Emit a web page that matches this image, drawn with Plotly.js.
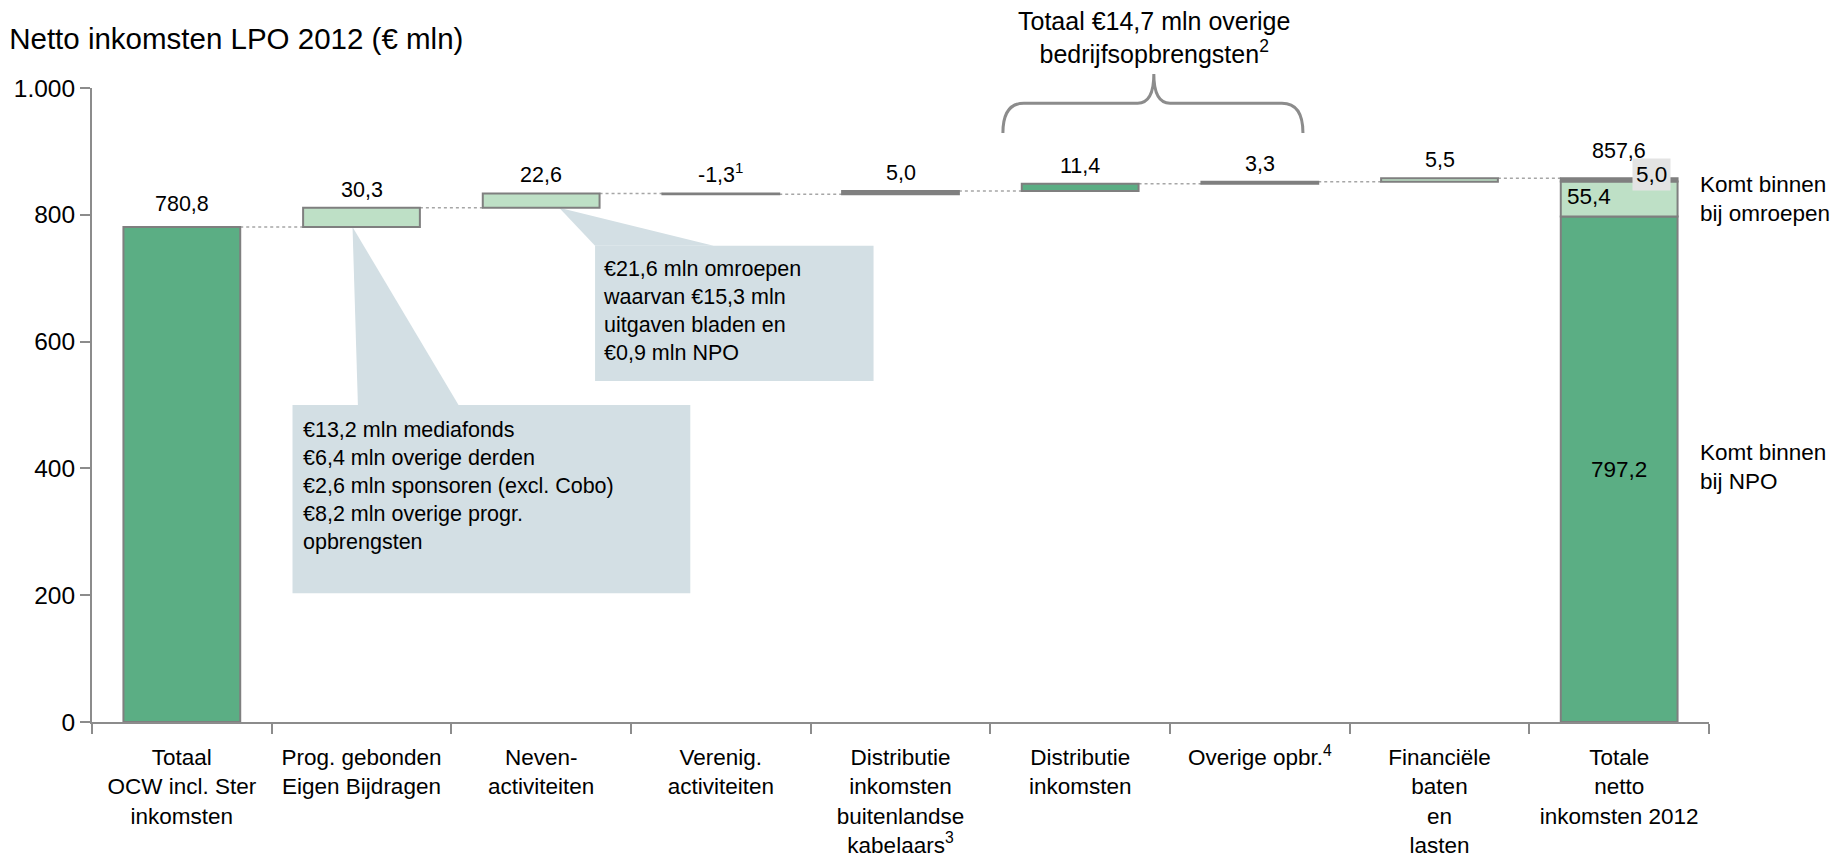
<!DOCTYPE html>
<html>
<head>
<meta charset="utf-8">
<script src="https://cdn.plot.ly/plotly-3.0.1.min.js"></script>
<style>html,body{margin:0;padding:0;background:#fff;}#chart{width:1840px;height:858px;}</style>
</head>
<body>
<div id="chart"></div>
<script>
// ---------------- data ----------------
const categories = [
  "Totaal<br>OCW incl. Ster<br>inkomsten",
  "Prog. gebonden<br>Eigen Bijdragen",
  "Neven-<br>activiteiten",
  "Verenig.<br>activiteiten",
  "Distributie<br>inkomsten<br>buitenlandse<br>kabelaars<sup>3</sup>",
  "Distributie<br>inkomsten",
  "Overige opbr.<sup>4</sup>",
  "Financiële<br>baten<br>en<br>lasten",
  "Totale<br>netto<br>inkomsten 2012"
];
const startValue = 780.8;                                  // Totaal OCW incl. Ster
const stepValues = [30.3, 22.6, -1.3, 5.0, 11.4, 3.3, 5.5]; // categories 1..7
const stepKinds  = ["light", "light", "gray", "gray", "dark", "gray", "light"];
const stepFootnotes = ["", "", "1", "", "", "", ""];
const finalParts = [797.2, 55.4, 5.0];                     // NPO, omroepen, kabelaars
const finalKinds = ["dark", "light", "gray"];
const totalValue = 857.6;
const yTicks = [0, 200, 400, 600, 800, 1000];

const callout1Lines = ["€13,2 mln mediafonds", "€6,4 mln overige derden", "€2,6 mln sponsoren (excl. Cobo)", "€8,2 mln overige progr.", "opbrengsten"];
const callout2Lines = ["€21,6 mln omroepen", "waarvan €15,3 mln", "uitgaven bladen en", "€0,9 mln NPO"];
const braceText = "Totaal €14,7 mln overige<br>bedrijfsopbrengsten<sup>2</sup>";

// ---------------- styling ----------------
const COLORS = {dark: "#5BAE84", light: "#BEE0C6", gray: "#808080"};
const OUTLINE = "#7F7F7F";
const AXIS = "#8C8C8C";
const BOX = "#D3DFE4";
const FONT = "Liberation Sans, Arial, sans-serif";
const BAR_W = 0.65;

function fmt(v) { return v.toFixed(1).replace(".", ","); }

// running totals
const bases = [], tops = [];
let run = startValue;
stepValues.forEach(v => { bases.push(run); run += v; tops.push(run); });

const traces = [];
traces.push({
  type: "bar", x: [categories[0]], y: [startValue], base: [0], width: BAR_W,
  marker: {color: COLORS.dark, line: {color: OUTLINE, width: 2}}, hoverinfo: "skip"
});
traces.push({
  type: "bar", x: categories.slice(1, 8), y: stepValues, base: bases, width: BAR_W,
  marker: {color: stepKinds.map(k => COLORS[k]), line: {color: OUTLINE, width: 2}}, hoverinfo: "skip"
});
let fb = 0;
finalParts.forEach((v, i) => {
  traces.push({
    type: "bar", x: [categories[8]], y: [v], base: [fb], width: BAR_W,
    marker: {color: COLORS[finalKinds[i]], line: {color: OUTLINE, width: 2}}, hoverinfo: "skip"
  });
  fb += v;
});

const annotations = [];
const lbl = {size: 21.5, color: "#000", family: FONT};
const side = {size: 22.5, color: "#000", family: FONT};
const call = {size: 21.5, color: "#000", family: FONT};
annotations.push({x: 0, y: startValue, xref: "x", yref: "y", text: fmt(startValue), showarrow: false,
  yanchor: "bottom", yshift: 9, font: lbl});
stepValues.forEach((v, i) => {
  annotations.push({x: i + 1, y: Math.max(bases[i], tops[i]), xref: "x", yref: "y",
    text: fmt(v) + (stepFootnotes[i] ? "<sup>" + stepFootnotes[i] + "</sup>" : ""),
    showarrow: false, yanchor: "bottom", yshift: 4, font: lbl});
});
annotations.push({x: 8, y: totalValue, xref: "x", yref: "y", text: fmt(totalValue), showarrow: false,
  yanchor: "bottom", yshift: 13, font: lbl});
annotations.push({x: 8, y: finalParts[0] / 2, xref: "x", yref: "y", text: fmt(finalParts[0]), showarrow: false, font: side});
annotations.push({x: 8 - BAR_W / 2, y: finalParts[0] + finalParts[1] / 2 + 4, xref: "x", yref: "y", text: fmt(finalParts[1]),
  showarrow: false, xanchor: "left", xshift: 4, font: side});
annotations.push({x: 8 + BAR_W / 2, y: totalValue, xref: "x", yref: "y", text: fmt(finalParts[2]),
  showarrow: false, xanchor: "right", yanchor: "middle", xshift: -7, yshift: 4, font: side,
  bgcolor: "#E3E3E3", borderpad: 3});
annotations.push({x: 0.993, y: 825, xref: "paper", yref: "y", text: "Komt binnen<br>bij omroepen", showarrow: false,
  xanchor: "left", yanchor: "middle", align: "left", font: side});
annotations.push({x: 0.993, y: 402, xref: "paper", yref: "y", text: "Komt binnen<br>bij NPO", showarrow: false,
  xanchor: "left", yanchor: "middle", align: "left", font: side});
annotations.push({x: 0.657, y: 1.08, xref: "paper", yref: "paper", text: braceText, showarrow: false,
  xanchor: "center", yanchor: "middle", font: {size: 25, color: "#000", family: FONT}, align: "center"});
const box1 = {x0: 0.616, x1: 2.83, y0: 203, y1: 500};
const box2 = {x0: 2.30, x1: 3.85, y0: 538, y1: 751};
annotations.push({x: box1.x0, y: box1.y1, xref: "x", yref: "y", text: callout1Lines.join("<br>"), showarrow: false,
  xanchor: "left", yanchor: "top", align: "left", xshift: 8, yshift: -11, font: call});
annotations.push({x: box2.x0, y: box2.y1, xref: "x", yref: "y", text: callout2Lines.join("<br>"), showarrow: false,
  xanchor: "left", yanchor: "top", align: "left", xshift: 6, yshift: -9, font: call});

const shapes = [];
shapes.push({type: "rect", xref: "x", yref: "y", x0: box1.x0, x1: box1.x1, y0: box1.y0, y1: box1.y1,
  fillcolor: BOX, line: {width: 0}, layer: "below"});
shapes.push({type: "path", xref: "x", yref: "y",
  path: `M 0.95 ${startValue} L 0.98 ${box1.y1} L 1.54 ${box1.y1} Z`, fillcolor: BOX, line: {width: 0}, layer: "below"});
shapes.push({type: "rect", xref: "x", yref: "y", x0: box2.x0, x1: box2.x1, y0: box2.y0, y1: box2.y1,
  fillcolor: BOX, line: {width: 0}, layer: "below"});
shapes.push({type: "path", xref: "x", yref: "y",
  path: `M 2.10 ${bases[1]} L ${box2.x0} ${box2.y1} L 2.96 ${box2.y1} Z`, fillcolor: BOX, line: {width: 0}, layer: "below"});
const levels = [startValue].concat(tops);
levels.forEach((lv, i) => {
  shapes.push({type: "line", xref: "x", yref: "y", x0: i + BAR_W / 2, x1: i + 1 - BAR_W / 2, y0: lv, y1: lv,
    line: {color: "#A6A6A6", width: 1.5, dash: "dot"}, layer: "below"});
});
const px = idx => (idx + 0.5) / categories.length;
const bx0 = px(4.57), bx1 = px(6.24), bxc = px(5.41);
const yA = 0.929, yH = 0.976, yT = 1.022, dX = 0.013, dC = 0.010;
shapes.push({type: "path", xref: "paper", yref: "paper",
  path: `M ${bx0} ${yA} Q ${bx0} ${yH} ${bx0 + dX} ${yH} L ${bxc - dC} ${yH} Q ${bxc} ${yH} ${bxc} ${yT} ` +
        `Q ${bxc} ${yH} ${bxc + dC} ${yH} L ${bx1 - dX} ${yH} Q ${bx1} ${yH} ${bx1} ${yA}`,
  line: {color: AXIS, width: 3}, fillcolor: "rgba(0,0,0,0)"});

const layout = {
  width: 1840, height: 858,
  margin: {l: 92, r: 131, t: 88, b: 136, pad: 0},
  paper_bgcolor: "#fff", plot_bgcolor: "#fff",
  separators: ",.",
  showlegend: false,
  barmode: "overlay",
  font: {family: FONT, color: "#000", size: 21},
  title: {text: "Netto inkomsten LPO 2012 (€ mln)", xref: "container", yref: "container",
    x: 0.005, xanchor: "left", y: 0.955, yanchor: "middle", font: {size: 29.5, family: FONT, color: "#000"}},
  xaxis: {type: "category", categoryorder: "array", categoryarray: categories,
    range: [-0.5, 8.5], tickson: "boundaries", ticks: "outside", ticklen: 10, tickwidth: 2, tickcolor: AXIS,
    showline: true, linecolor: AXIS, linewidth: 2, showgrid: false, zeroline: false,
    tickfont: {size: 22.5, family: FONT, color: "#000"}, ticklabelstandoff: 14, fixedrange: true},
  yaxis: {range: [0, 1000], tickvals: yTicks, ticks: "outside", ticklen: 10, tickwidth: 2, tickcolor: AXIS,
    showline: true, linecolor: AXIS, linewidth: 2, showgrid: false, zeroline: false, separatethousands: true,
    tickfont: {size: 24.5, family: FONT, color: "#000"}, fixedrange: true},
  annotations: annotations,
  shapes: shapes
};

Plotly.newPlot("chart", traces, layout, {displayModeBar: false, staticPlot: true});
</script>
</body>
</html>
